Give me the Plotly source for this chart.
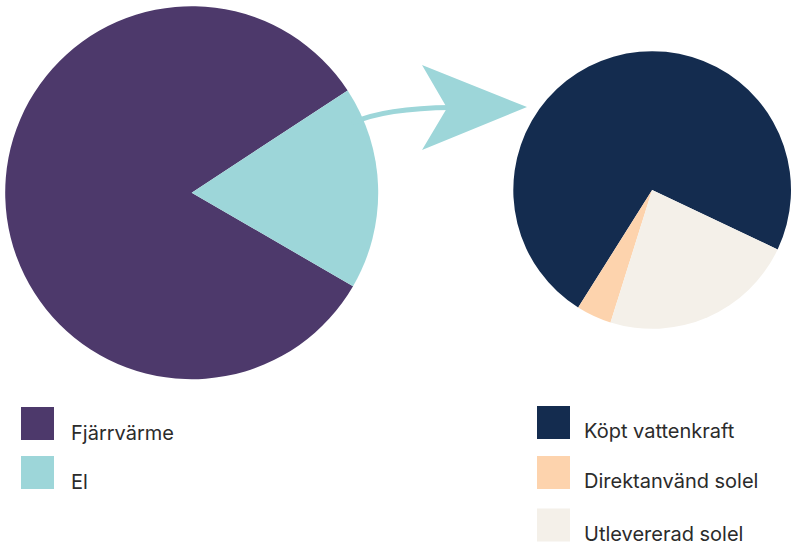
import plotly.graph_objects as go

W, H = 791, 545

# ---- data ----
left_labels = ["Fjärrvärme", "El"]
left_values = [82.4, 17.6]
left_colors = ["#4d396b", "#9dd6d9"]

right_labels = ["Köpt vattenkraft", "Direktanvänd solel", "Utlevererad solel"]
right_values = [73.1, 4.1, 22.8]
right_colors = ["#142c4f", "#fdd3ad", "#f4f0e9"]

FONT = "Inter"
TEXT_COLOR = "#2b2b2b"
FONT_SIZE = 20


def px(x):
    """screen pixel x -> paper fraction"""
    return min(max(x / W, 0), 1)


def py(y):
    """screen pixel y -> paper fraction"""
    return min(max(1 - y / H, 0), 1)


fig = go.Figure()

fig.add_trace(go.Pie(
    labels=left_labels, values=left_values, sort=False,
    direction="clockwise", rotation=120.1,
    marker=dict(colors=left_colors, line=dict(width=0)),
    textinfo="none", hoverinfo="label+percent", showlegend=False,
    domain=dict(x=[px(5.2), px(378.2)], y=[py(379.2), py(6.2)]),
))

fig.add_trace(go.Pie(
    labels=right_labels, values=right_values, sort=False,
    direction="counterclockwise", rotation=212.2,
    marker=dict(colors=right_colors, line=dict(width=0)),
    textinfo="none", hoverinfo="label+percent", showlegend=False,
    domain=dict(x=[px(513.3), px(791)], y=[py(330), py(50)]),
))

shapes = []
# arrow shaft
shapes.append(dict(
    type="path", xref="paper", yref="paper",
    path=f"M {px(352)} {py(123)} Q {px(385)} {py(108)} {px(452)} {py(107.5)}",
    line=dict(color="#9dd6d9", width=5), fillcolor="rgba(0,0,0,0)",
))
# arrow head
shapes.append(dict(
    type="path", xref="paper", yref="paper",
    path=(f"M {px(422)} {py(65)} L {px(527)} {py(107)} L {px(422)} {py(150)} "
          f"L {px(447)} {py(108)} Z"),
    line=dict(width=0), fillcolor="#9dd6d9",
))

annotations = []
# left legend
left_tops = [407, 456]
for lab, col, top in zip(left_labels, left_colors, left_tops):
    shapes.append(dict(type="rect", xref="paper", yref="paper",
                       x0=px(21), x1=px(54), y0=py(top + 33), y1=py(top),
                       line=dict(width=0), fillcolor=col))
    annotations.append(dict(text=lab, xref="paper", yref="paper",
                            x=px(69), y=py(top + 26), xanchor="left", yanchor="middle",
                            showarrow=False,
                            font=dict(family=FONT, size=FONT_SIZE, color=TEXT_COLOR)))

right_tops = [406, 456, 508.5]
for lab, col, top in zip(right_labels, right_colors, right_tops):
    shapes.append(dict(type="rect", xref="paper", yref="paper",
                       x0=px(537), x1=px(570), y0=py(top + 33), y1=py(top),
                       line=dict(width=0), fillcolor=col))
    annotations.append(dict(text=lab, xref="paper", yref="paper",
                            x=px(582), y=py(top + 25), xanchor="left", yanchor="middle",
                            showarrow=False,
                            font=dict(family=FONT, size=FONT_SIZE, color=TEXT_COLOR)))

fig.update_layout(
    width=W, height=H,
    margin=dict(l=0, r=0, t=0, b=0),
    paper_bgcolor="white", plot_bgcolor="white",
    shapes=shapes, annotations=annotations,
    showlegend=False,
)

fig.write_html(
    "out.html",
    config={"displayModeBar": False},
    post_script="document.body.style.margin='0px';document.body.style.overflow='hidden';",
)
